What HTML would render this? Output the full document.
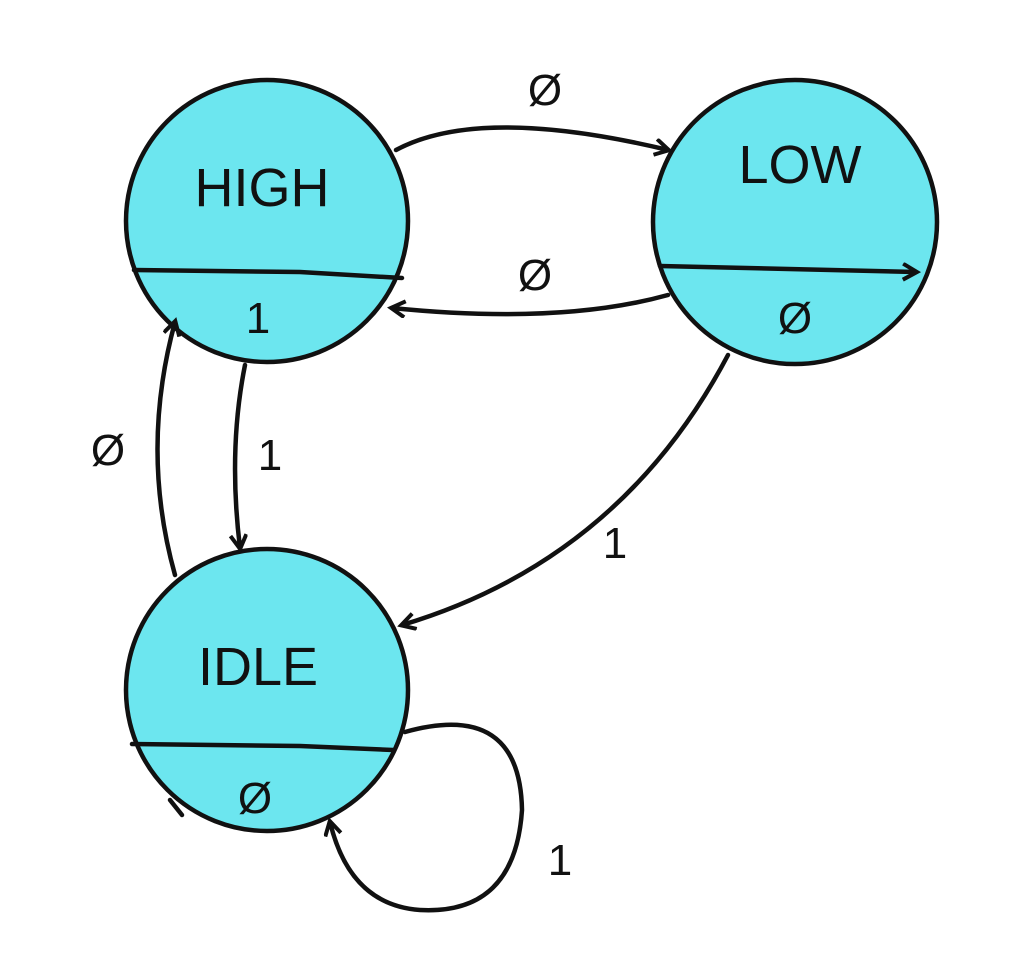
<!DOCTYPE html>
<html><head><meta charset="utf-8"><style>
html,body{margin:0;padding:0;background:#fff;}
svg{display:block}
text{font-family:"Liberation Sans",sans-serif;fill:#111;}
</style></head><body>
<svg width="1016" height="976" viewBox="0 0 1016 976" xmlns="http://www.w3.org/2000/svg">
<defs>
<marker id="a" markerWidth="20" markerHeight="20" refX="14" refY="9" orient="auto" markerUnits="userSpaceOnUse">
<path d="M1,1 L15,9 L1,17" fill="none" stroke="#111" stroke-width="4"/>
</marker>
</defs>
<g stroke="#111" stroke-width="4.5" fill="#6ce6ef">
<circle cx="267" cy="221" r="141"/>
<circle cx="795" cy="222" r="142"/>
<circle cx="267" cy="690" r="141"/>
</g>
<g stroke="#111" stroke-width="4.5" fill="none" stroke-linecap="round">
<path d="M134,270 L300,272 L402,278"/>
<path d="M660,266 L916,272" marker-end="url(#a)"/>
<path d="M132,744 L300,746 L393,750"/>
<path d="M396,150 Q480,105 668,150" marker-end="url(#a)"/>
<path d="M668,295 Q560,325 392,308" marker-end="url(#a)"/>
<path d="M245,365 Q228,450 240,548" marker-end="url(#a)"/>
<path d="M175,575 Q140,450 175,322" marker-end="url(#a)"/>
<path d="M728,355 Q620,560 402,625" marker-end="url(#a)"/>
<path d="M405,732 Q520,700 522,810 Q515,915 420,910 Q350,905 330,822" marker-end="url(#a)"/>
<path d="M170,800 L182,815"/>
</g>
<g text-anchor="middle">
<text x="262" y="206" font-size="54">HIGH</text>
<text x="800" y="183" font-size="54">LOW</text>
<text x="258" y="685" font-size="54">IDLE</text>
</g>
<g font-size="44" text-anchor="middle">
<text x="258" y="333">1</text>
<text x="795" y="333">Ø</text>
<text x="255" y="813">Ø</text>
<text x="545" y="105">Ø</text>
<text x="535" y="290">Ø</text>
<text x="270" y="470">1</text>
<text x="108" y="465">Ø</text>
<text x="615" y="558">1</text>
<text x="560" y="875">1</text>
</g>
</svg>
</body></html>
